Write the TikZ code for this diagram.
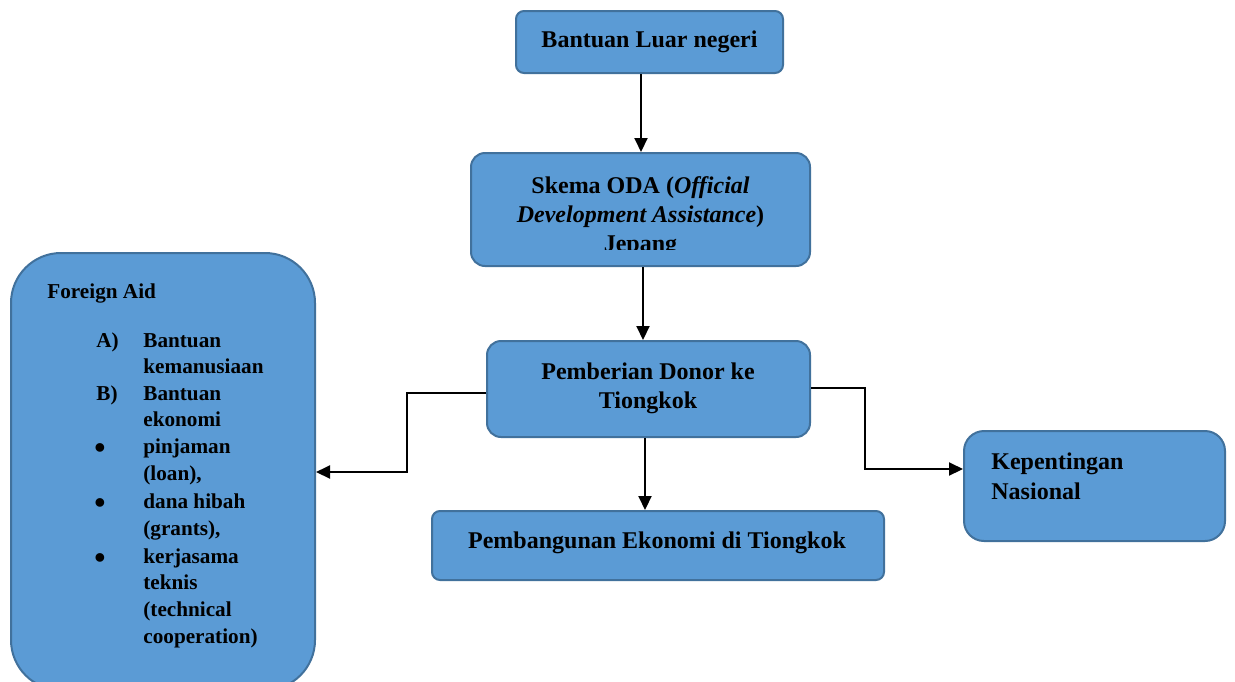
\documentclass[tikz,border=0pt]{standalone}
\usepackage{fontspec}
\setmainfont{Liberation Serif}
\usetikzlibrary{arrows.meta}
\definecolor{boxfill}{HTML}{5B9BD5}
\definecolor{boxline}{HTML}{41719C}
\tikzset{
  box/.style={draw=boxline, fill=boxfill, line width=1pt, inner sep=0pt},
  txt/.style={anchor=base, inner sep=0pt, font=\fontsize{12}{14.5}\selectfont\bfseries},
  ltxt/.style={anchor=base west, inner sep=0pt, font=\fontsize{12}{14.5}\selectfont\bfseries},
  stxt/.style={anchor=base west, inner sep=0pt, font=\fontsize{10.6}{13}\selectfont\bfseries},
  btxt/.style={anchor=base west, inner sep=0pt, font=\fontsize{16}{16}\selectfont\bfseries},
  conn/.style={line width=1pt, draw=black},
  arr/.style={conn, -{Triangle[length=7pt,width=6.5pt]}},
}
\begin{document}
\begin{tikzpicture}[x=0.5pt,y=-0.5pt]
\clip (0,0) rectangle (1235,681);
\fill[white] (0,0) rectangle (1235,681);

% boxes
\node[box, rounded corners=4pt, minimum width=133.5pt, minimum height=31pt] (b1) at (649.5,42) {};
\node[box, rounded corners=7pt, minimum width=169.5pt, minimum height=56.5pt] (b2) at (640.5,209.5) {};
\node[box, rounded corners=7pt, minimum width=161.5pt, minimum height=48pt] (b3) at (648.5,389) {};
\node[box, rounded corners=4pt, minimum width=226pt, minimum height=34.5pt] (b4) at (658,545.5) {};
\node[box, rounded corners=10pt, minimum width=130.5pt, minimum height=55pt] (b5) at (1094.5,486) {};
\node[box, rounded corners=25pt, minimum width=152pt, minimum height=218.5pt] (b6) at (163,471.5) {};

% texts
\node[txt] (t1) at (649.5,47) {Bantuan Luar negeri};
\begin{scope}
\clip (471,153) rectangle (810,249);
\node[txt] (t2a) at (640.5,193) {Skema ODA (\textit{Official}};
\node[txt] (t2b) at (640.5,222) {\textit{Development Assistance})};
\node[txt] (t2c) at (640.5,251) {Jepang};
\end{scope}
\node[txt] (t3a) at (648,379) {Pemberian Donor ke};
\node[txt] (t3b) at (648,408) {Tiongkok};
\node[txt] (t4) at (657,548) {Pembangunan Ekonomi di Tiongkok};
\node[ltxt] (t5a) at (991,469) {Kepentingan};
\node[ltxt] (t5b) at (991,499) {Nasional};

\node[stxt] (fa) at (47,298) {Foreign Aid};
\node[stxt] (la) at (96,347) {A)};
\node[stxt] (l1) at (143,347) {Bantuan};
\node[stxt] (l2) at (143,373) {kemanusiaan};
\node[stxt] (lb) at (96,400) {B)};
\node[stxt] (l3) at (143,400) {Bantuan};
\node[stxt] (l4) at (143,426) {ekonomi};
\node[btxt] (bu1) at (94,458) {\textbullet};
\node[stxt] (l5) at (143,453) {pinjaman};
\node[stxt] (l6) at (143,480) {(loan),};
\node[btxt] (bu2) at (94,513) {\textbullet};
\node[stxt] (l7) at (143,508) {dana hibah};
\node[stxt] (l8) at (143,535) {(grants),};
\node[btxt] (bu3) at (94,568) {\textbullet};
\node[stxt] (l9) at (143,563) {kerjasama};
\node[stxt] (l10) at (143,589) {teknis};
\node[stxt] (l11) at (143,616) {(technical};
\node[stxt] (l12) at (143,643) {cooperation)};

% connectors
\draw[arr] (b1.south -| 641,0) -- (b2.north -| 641,0);
\draw[arr] (b2.south -| 643,0) -- (b3.north -| 643,0);
\draw[arr] (b3.south -| 645,0) -- (b4.north -| 645,0);
\draw[arr] (b3.west |- 0,393) -- (407,393) |- (b6.east |- 0,472);
\draw[arr] (b3.east |- 0,388) -- (865,388) |- (b5.west |- 0,469);
\end{tikzpicture}
\end{document}
